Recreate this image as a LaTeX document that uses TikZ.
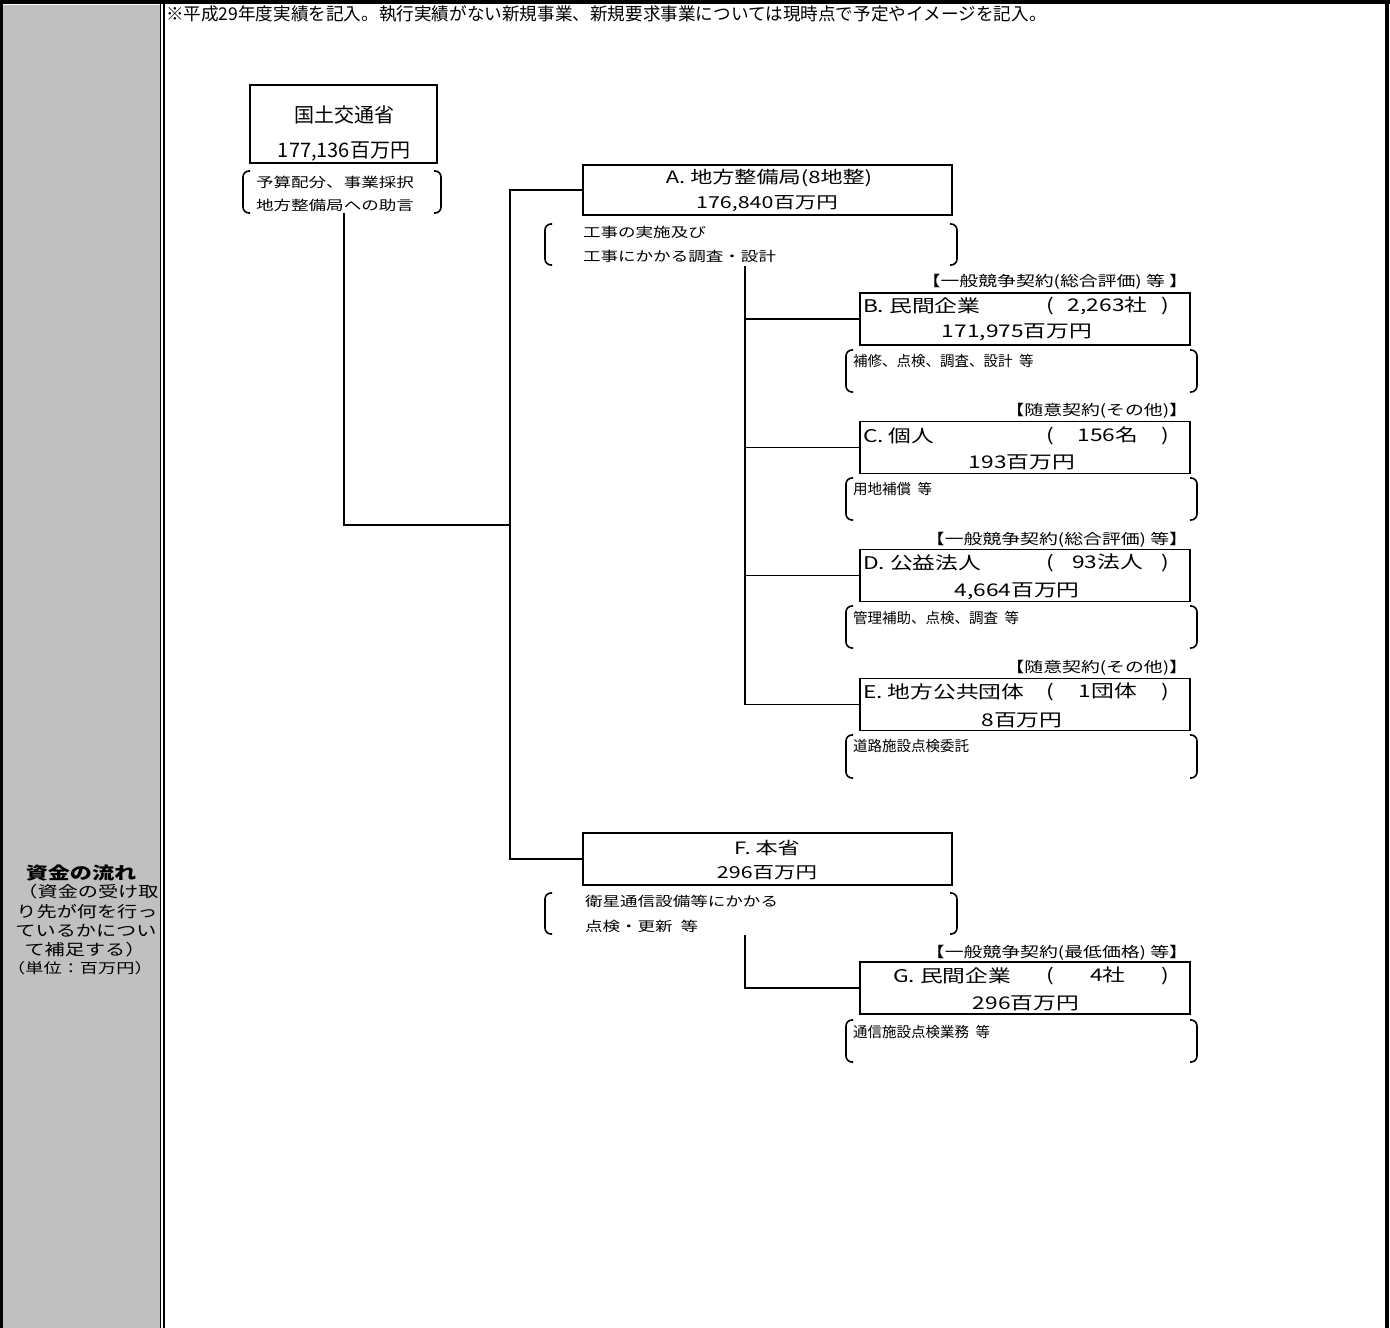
\documentclass[tikz,border=0pt]{standalone}
\usepackage{fontspec}
\setmainfont{Noto Sans CJK JP}
\newfontfamily\jpw[FakeStretch=1.3]{Noto Sans CJK JP}
\usepackage{tikz}
\definecolor{cellgray}{HTML}{C0C0C0}
\newcommand{\sz}[1]{\fontsize{#1}{#1}\selectfont}
\tikzset{
    every node/.style={inner sep=0pt, outer sep=0pt, font=\sz{16}}
}
\tikzset{
    wide/.style={font={\jpw\sz{#1}}},
    box/.style={draw, line width=1.6pt},
    brak/.style={line width=1.6pt, rounded corners=6pt},
    flow/.style={line width=1.6pt}
}

\begin{document}
\begin{tikzpicture}[x=1pt, y=-1pt]
	\useasboundingbox (0,0) rectangle (1390,1328);
	% frame of the sheet
	\fill[cellgray] (0,5) rectangle (161,1328);
	\draw[line width=4pt] (0,2) -- (1390,2);
	\draw[line width=3pt] (1.5,0) -- (1.5,1328);
	\draw[line width=1pt] (160.5,4) -- (160.5,1328);
	\draw[line width=2pt] (164,0) -- (164,1328);
	\draw[line width=3.5pt] (1387,0) -- (1387,1328);

	\node[anchor=west, font=\sz{17.6}] (note) at (166,14)
		{※平成29年度実績を記入。執行実績がない新規事業、新規要求事業については現時点で予定やイメージを記入。};

	% left column
	\node[font=\jpw\bfseries\sz{17}] (title) at (81,873) {資金の流れ};
	\node[wide=15.5] (sub1) at (88,892) {（資金の受け取};
	\node[wide=15.5] (sub2) at (87,912) {り先が何を行っ};
	\node[wide=15.5] (sub3) at (86,931) {ているかについ};
	\node[wide=15.5] (sub4) at (85,950) {て補足する）};
	\node[wide=14] (unit) at (80,968) {（単位：百万円）};

	% ministry
	\node[box, minimum width=187, minimum height=78] (mlit) at (343.5,124) {};
	\node[font=\sz{20}] (mlitname) at (344,115) {国土交通省};
	\node[font=\sz{20}] (mlitsum) at (344,152) {177,136百万円};
	\draw[brak] (250,171) -- (243,171) -- (243,213) -- (250,213);
	\draw[brak] (434,171) -- (441,171) -- (441,213) -- (434,213);
	\node[anchor=west, wide=13.5] (mlitrole1) at (256,182) {予算配分、事業採択};
	\node[anchor=west, wide=13.5] (mlitrole2) at (256,205) {地方整備局への助言};

	% A
	\node[box, minimum width=369, minimum height=50] (a) at (767.5,190) {};
	\node[wide=17] (aname) at (769,178) {A.\ 地方整備局(8地整)};
	\node[wide=16.5] (asum) at (767,204) {176,840百万円};
	\draw[brak] (552,224) -- (545,224) -- (545,265) -- (552,265);
	\draw[brak] (950,224) -- (957,224) -- (957,265) -- (950,265);
	\node[anchor=west, wide=13.5] (arole1) at (583,232) {工事の実施及び};
	\node[anchor=west, wide=13.5] (arole2) at (583,256) {工事にかかる調査・設計};

	% F
	\node[box, minimum width=369, minimum height=52] (f) at (767.5,859) {};
	\node[wide=17] (fname) at (767,848) {F.\ 本省};
	\node[wide=16.5] (fsum) at (767,873) {296百万円};
	\draw[brak] (552,893) -- (545,893) -- (545,934) -- (552,934);
	\draw[brak] (950,893) -- (957,893) -- (957,934) -- (950,934);
	\node[anchor=west, wide=13.5] (frole1) at (585,901) {衛星通信設備等にかかる};
	\node[anchor=west, wide=13.5] (frole2) at (585,926) {点検・更新\ \ 等};

	% B
	\node[anchor=east, wide=14.5] (bcon) at (1188,282) {【一般競争契約(総合評価)\ 等\ 】};
	\node[box, minimum width=330, minimum height=52] (b) at (1025,319) {};
	\node[anchor=west, wide=17.5] (bname) at (863,306) {B.\ 民間企業};
	\node[anchor=west, wide=17.5] (bnum) at (1046,306) {(\makebox[108pt]{2,263社})};
	\node[wide=17.5] (bsum) at (1017,332) {171,975百万円};
	\draw[brak] (853,350) -- (846,350) -- (846,392) -- (853,392);
	\draw[brak] (1190,350) -- (1197,350) -- (1197,392) -- (1190,392);
	\node[anchor=west, font=\sz{14.5}] (brole) at (853,361) {補修、点検、調査、設計\ \ 等};

	% C
	\node[anchor=east, wide=14.5] (ccon) at (1188,411) {【随意契約(その他)】};
	\node[box, minimum width=330, minimum height=52] (c) at (1025,447.5) {};
	\node[anchor=west, wide=17.5] (cname) at (863,436) {C.\ 個人};
	\node[anchor=west, wide=17.5] (cnum) at (1046,436) {(\makebox[108pt]{156名})};
	\node[wide=17.5] (csum) at (1022,462) {193百万円};
	\draw[brak] (853,478) -- (846,478) -- (846,520) -- (853,520);
	\draw[brak] (1190,478) -- (1197,478) -- (1197,520) -- (1190,520);
	\node[anchor=west, font=\sz{14.5}] (crole) at (853,489) {用地補償\ \ 等};

	% D
	\node[anchor=east, wide=14.5] (dcon) at (1188,540) {【一般競争契約(総合評価)\ 等】};
	\node[box, minimum width=330, minimum height=52] (d) at (1025,575.5) {};
	\node[anchor=west, wide=17.5] (dname) at (863,563) {D.\ 公益法人};
	\node[anchor=west, wide=17.5] (dnum) at (1046,563) {(\makebox[108pt]{93法人})};
	\node[wide=17.5] (dsum) at (1017,591) {4,664百万円};
	\draw[brak] (853,606) -- (846,606) -- (846,648) -- (853,648);
	\draw[brak] (1190,606) -- (1197,606) -- (1197,648) -- (1190,648);
	\node[anchor=west, font=\sz{14.5}] (drole) at (853,618) {管理補助、点検、調査\ \ 等};

	% E
	\node[anchor=east, wide=14.5] (econ) at (1188,668) {【随意契約(その他)】};
	\node[box, minimum width=330, minimum height=52] (e) at (1025,704.5) {};
	\node[anchor=west, wide=17.5] (ename) at (863,692) {E.\ 地方公共団体};
	\node[anchor=west, wide=17.5] (enum) at (1046,692) {(\makebox[108pt]{1団体})};
	\node[wide=17.5] (esum) at (1022,720) {8百万円};
	\draw[brak] (853,735) -- (846,735) -- (846,778) -- (853,778);
	\draw[brak] (1190,735) -- (1197,735) -- (1197,778) -- (1190,778);
	\node[anchor=west, font=\sz{14.5}] (erole) at (853,746) {道路施設点検委託};

	% G
	\node[anchor=east, wide=14.5] (gcon) at (1188,953) {【一般競争契約(最低価格)\ 等】};
	\node[box, minimum width=330, minimum height=52] (g) at (1025,988) {};
	\node[anchor=west, wide=17.5] (gname) at (893,976) {G.\ 民間企業};
	\node[anchor=west, wide=17.5] (gnum) at (1046,976) {(\makebox[108pt]{4社})};
	\node[wide=17.5] (gsum) at (1026,1003) {296百万円};
	\draw[brak] (853,1020) -- (846,1020) -- (846,1062) -- (853,1062);
	\draw[brak] (1190,1020) -- (1197,1020) -- (1197,1062) -- (1190,1062);
	\node[anchor=west, font=\sz{14.5}] (grole) at (853,1032) {通信施設点検業務\ \ 等};

	% money flow
	\coordinate (mlitout) at (344,213);
	\coordinate (join) at (510,525);
	\coordinate (trunktop) at (510,190);
	\coordinate (trunkbot) at (510,859);
	\coordinate (aout) at (745,266);
	\coordinate (fout) at (745,935);
	\draw[flow] (mlitout) |- (join);
	\draw[flow] (a.west) -- (trunktop) -- (trunkbot) -- (f.west);
	\draw[flow] (aout) |- (b.west); \draw[flow] (aout) |- (c.west);
	\draw[flow] (aout) |- (d.west); \draw[flow] (aout) |- (e.west);
	\draw[flow] (fout) |- (g.west);
\end{tikzpicture}
\end{document}
